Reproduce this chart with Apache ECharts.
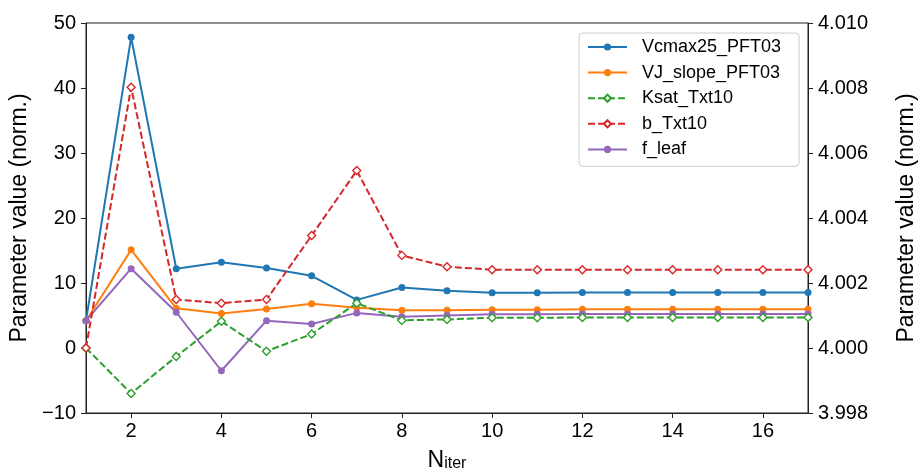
<!DOCTYPE html>
<html>
<head>
<meta charset="utf-8">
<script src="https://cdn.jsdelivr.net/npm/echarts@6/dist/echarts.min.js"></script>
<style>
html,body{margin:0;padding:0;background:#fff;}
#chart{width:919px;height:473px;}
</style>
</head>
<body>
<div id="chart"></div>
<script>
// ---- data ----
var iterations = [1, 2, 3, 4, 5, 6, 7, 8, 9, 10, 11, 12, 13, 14, 15, 16, 17];
var xTickValues = [2, 4, 6, 8, 10, 12, 14, 16];
var seriesNames = ['Vcmax25_PFT03', 'VJ_slope_PFT03', 'Ksat_Txt10', 'b_Txt10', 'f_leaf'];
// left axis
var vcmax25 = [4.2, 47.8, 12.2, 13.2, 12.3, 11.1, 7.4, 9.3, 8.8, 8.5, 8.5, 8.55, 8.55, 8.55, 8.55, 8.55, 8.55];
var vjSlope = [4.2, 15.1, 6.1, 5.3, 6.0, 6.8, 6.2, 5.8, 5.8, 5.9, 5.9, 5.95, 5.95, 5.95, 5.95, 5.95, 5.95];
var fLeaf   = [4.2, 12.2, 5.5, -3.5, 4.2, 3.7, 5.4, 4.8, 5.0, 5.2, 5.2, 5.25, 5.25, 5.25, 5.25, 5.25, 5.25];
// right axis
var ksat = [4.0000, 3.9986, 3.99974, 4.00082, 3.9999, 4.00043, 4.00138, 4.00085, 4.00088, 4.00093, 4.00093, 4.00094, 4.00094, 4.00094, 4.00094, 4.00094, 4.00094];
var bTxt = [4.0000, 4.00802, 4.00149, 4.00138, 4.00149, 4.00346, 4.00546, 4.00285, 4.0025, 4.00241, 4.00241, 4.00241, 4.00241, 4.00241, 4.00241, 4.00241, 4.00241];

function pairs(vals) { return iterations.map(function (x, i) { return [x, vals[i]]; }); }

var FONT = '"Liberation Sans", Arial, sans-serif';
var AX = '#222';

function lineSeries(name, vals, color, yIdx, dashed) {
  var s = {
    name: name,
    type: 'line',
    yAxisIndex: yIdx,
    data: pairs(vals),
    animation: false,
    lineStyle: { color: color, width: 2, type: dashed ? [7, 3] : 'solid' },
    emphasis: { disabled: true }
  };
  if (dashed) {
    s.symbol = 'diamond';
    s.symbolSize = 8;
    s.itemStyle = { color: '#fff', borderColor: color, borderWidth: 1.4 };
    s.color = color;
  } else {
    s.symbol = 'circle';
    s.symbolSize = 7;
    s.itemStyle = { color: color };
  }
  return s;
}

var chart = echarts.init(document.getElementById('chart'), null, { renderer: 'canvas' });
chart.setOption({
  backgroundColor: '#fff',
  animation: false,
  grid: { left: 86, right: 111, top: 23, bottom: 60, outerBoundsMode: 'none', containLabel: false,
          show: true, borderColor: AX, borderWidth: 1, backgroundColor: 'transparent' },
  legend: {
    data: seriesNames,
    orient: 'vertical',
    left: 579,
    top: 33,
    itemWidth: 39,
    itemHeight: 9,
    itemGap: 7.6,
    padding: [5, 18, 8, 8],
    backgroundColor: 'rgba(255,255,255,0.8)',
    borderColor: '#cccccc',
    borderWidth: 1,
    borderRadius: 4,
    textStyle: { fontFamily: FONT, fontSize: 18, color: '#000', lineHeight: 18, padding: [0, 0, 0, 10] }
  },
  xAxis: {
    type: 'value',
    min: 1,
    max: 17,
    name: '{n|N}{s|iter}',
    nameLocation: 'middle',
    nameGap: 33,
    nameTextStyle: {
      rich: {
        n: { fontFamily: FONT, fontSize: 23, lineHeight: 23, color: '#000', verticalAlign: 'top' },
        s: { fontFamily: FONT, fontSize: 16, lineHeight: 16, color: '#000', verticalAlign: 'bottom', padding: [10, 0, 0, 0] }
      }
    },
    axisLine: { show: true, onZero: false, lineStyle: { color: AX, width: 1 } },
    axisTick: { show: true, inside: false, length: 5, customValues: xTickValues, lineStyle: { color: AX } },
    axisLabel: { customValues: xTickValues, fontFamily: FONT, fontSize: 20, color: '#000', margin: 8 },
    splitLine: { show: false }
  },
  yAxis: [
    {
      type: 'value',
      position: 'left',
      min: -10,
      max: 50,
      interval: 10,
      name: 'Parameter value (norm.)',
      nameLocation: 'middle',
      nameRotate: 90,
      nameGap: 53,
      nameTextStyle: { fontFamily: FONT, fontSize: 23, color: '#000' },
      axisLine: { show: true, onZero: false, lineStyle: { color: AX, width: 1 } },
      axisTick: { show: true, length: 5, lineStyle: { color: AX } },
      axisLabel: { fontFamily: FONT, fontSize: 20, color: '#000', margin: 10,
        formatter: function (v) { return String(v).replace('-', '\u2212'); } },
      splitLine: { show: false }
    },
    {
      type: 'value',
      position: 'right',
      min: 3.998,
      max: 4.010,
      interval: 0.002,
      name: 'Parameter value (norm.)',
      nameLocation: 'middle',
      nameRotate: 90,
      nameGap: 87,
      nameTextStyle: { fontFamily: FONT, fontSize: 23, color: '#000' },
      axisLine: { show: true, onZero: false, lineStyle: { color: AX, width: 1 } },
      axisTick: { show: true, length: 5, lineStyle: { color: AX } },
      axisLabel: { fontFamily: FONT, fontSize: 20, color: '#000', margin: 10,
        formatter: function (v) { return v.toFixed(3); } },
      splitLine: { show: false }
    }
  ],
  series: [
    lineSeries(seriesNames[0], vcmax25, '#1f77b4', 0, false),
    lineSeries(seriesNames[1], vjSlope, '#ff7f0e', 0, false),
    lineSeries(seriesNames[4], fLeaf, '#9467bd', 0, false),
    lineSeries(seriesNames[2], ksat, '#2ca02c', 1, true),
    lineSeries(seriesNames[3], bTxt, '#d62728', 1, true)
  ]
});
</script>
</body>
</html>
